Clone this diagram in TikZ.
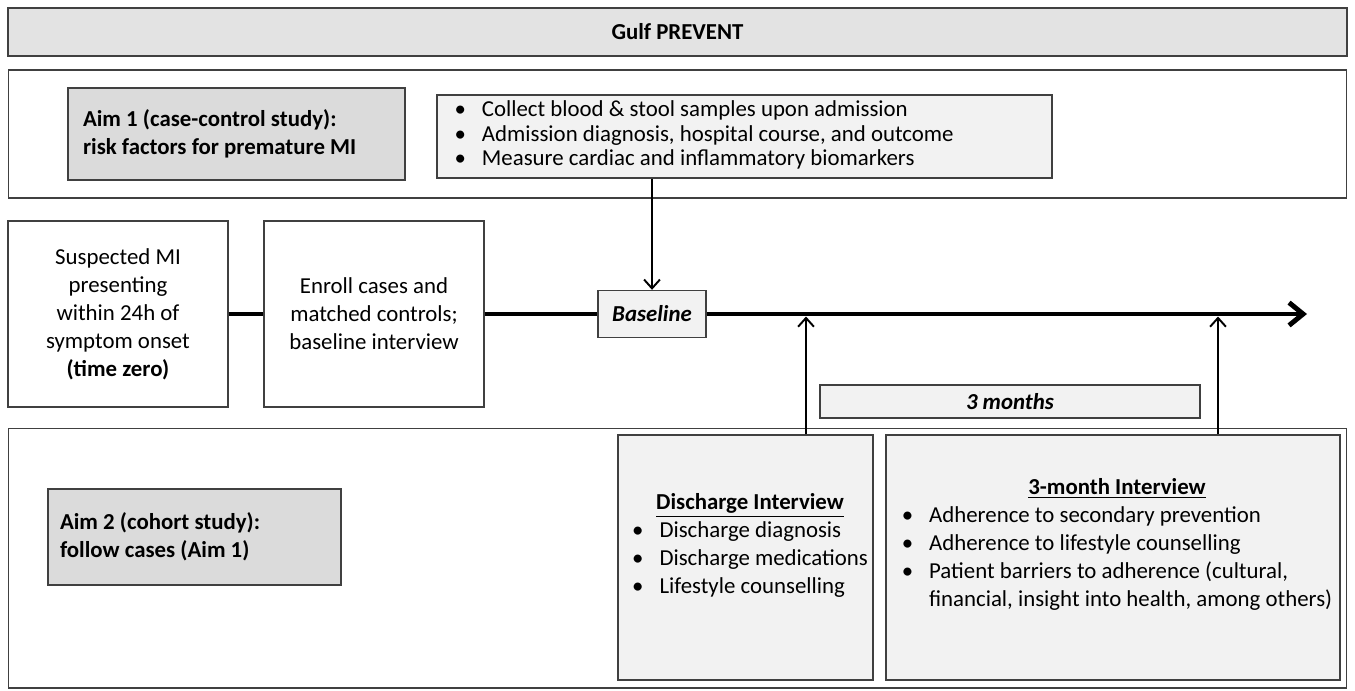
\documentclass[tikz,border=0pt]{standalone}
\usepackage{fontspec}
\setmainfont{Carlito}
\usepackage{tikz}
\usetikzlibrary{arrows.meta}

\tikzset{
	panel/.style={draw=black!75, line width=0.6pt, inner sep=0pt},
	greybox/.style={draw=black!75, fill=black!14, line width=0.8pt},
	lightbox/.style={draw=black!75, fill=black!5, line width=0.8pt},
	plainbox/.style={draw=black!75, fill=white, line width=0.8pt},
	timeline/.style={line width=2.8pt},
	tick/.style={line width=1.1pt, -{Straight Barb[length=5pt,width=9pt]}}
}

\begin{document}
\begin{tikzpicture}[x=0.02cm,y=-0.02cm,font=\fontsize{13}{15.9}\selectfont]
	\useasboundingbox (0,0) rectangle (1355,690);
	% frames
	\node[greybox, fill=black!11, minimum width=26.78cm, minimum height=0.96cm](title) at (677.5,32){\textbf{Gulf PREVENT}};
	\node[panel, minimum width=26.78cm, minimum height=2.56cm](aimone) at (677.5,134){};
	\node[panel, minimum width=26.78cm, minimum height=5.2cm](aimtwo) at (677.5,558){};
	% aim 1
	\node[greybox, minimum width=6.74cm, minimum height=1.84cm, text width=6.14cm, inner xsep=0.3cm, align=flush left](aone) at (236.5,134){\textbf{Aim 1 (case-control study):}\\\textbf{risk factors for premature MI}};
	\node[lightbox, minimum width=12.3cm, minimum height=1.66cm, text width=11.6cm, inner xsep=0.35cm, inner ysep=1pt, align=flush left, font=\fontsize{13}{13.9}\selectfont](samples) at (744.5,136.5){%
		\begin{tabular}{@{}c@{\hspace{0.32cm}}l@{}}
		\textbullet & Collect blood \& stool samples upon admission\\
		\textbullet & Admission diagnosis, hospital course, and outcome\\
		\textbullet & Measure cardiac and inflammatory biomarkers
		\end{tabular}};
	% timeline
	\node[plainbox, minimum width=4.4cm, minimum height=3.72cm, align=center](onset) at (118,314){Suspected MI\\presenting\\within 24h of\\symptom onset\\\textbf{(time zero)}};
	\node[plainbox, minimum width=4.4cm, minimum height=3.72cm, align=center](enroll) at (374,314){Enroll cases and\\matched controls;\\baseline interview};
	\node[lightbox, minimum width=2.16cm, minimum height=0.94cm](base) at (652,314){\textbf{\textit{Baseline}}};
	\node[lightbox, minimum width=7.6cm, minimum height=0.66cm](threemo) at (1010,401.5){\textbf{\textit{3 months}}};
	\coordinate (tend) at (1307,314);
	\coordinate (dmark) at (806,316.5);
	\coordinate (tmark) at (1218,316.5);
	\draw[timeline](onset.east)--(enroll.west);
	\draw[timeline](enroll.east)--(base.west);
	\draw[timeline, -{Straight Barb[length=8pt,width=13pt]}](base.east)--(tend);
	\draw[tick](samples.south -| base.north)--(base.north);
	% aim 2
	\node[greybox, minimum width=5.86cm, minimum height=1.92cm, text width=5.38cm, inner xsep=0.24cm, align=flush left](atwo) at (194.5,537){\textbf{Aim 2 (cohort study):}\\\textbf{follow cases (Aim 1)}};
	\node[lightbox, minimum width=5.1cm, minimum height=4.9cm](disch) at (745.5,557.5){};
	\node[lightbox, minimum width=9.08cm, minimum height=4.9cm](month) at (1113,557.5){};
	\node(dischtext) at (750,546){%
		\begin{tabular}{@{}c@{\hspace{0.32cm}}l@{}}
		\multicolumn{2}{c}{\textbf{\underline{Discharge Interview}}}\\
		\textbullet & Discharge diagnosis\\
		\textbullet & Discharge medications\\
		\textbullet & Lifestyle counselling
		\end{tabular}};
	\node(monthtext) at (1117,545){%
		\begin{tabular}{@{}c@{\hspace{0.32cm}}l@{}}
		\multicolumn{2}{c}{\textbf{\underline{3-month Interview}}}\\
		\textbullet & Adherence to secondary prevention\\
		\textbullet & Adherence to lifestyle counselling\\
		\textbullet & Patient barriers to adherence (cultural,\\
		 & financial, insight into health, among others)
		\end{tabular}};
	\draw[tick](dmark |- disch.north)--(dmark);
	\draw[tick](tmark |- month.north)--(tmark);
\end{tikzpicture}
\end{document}
